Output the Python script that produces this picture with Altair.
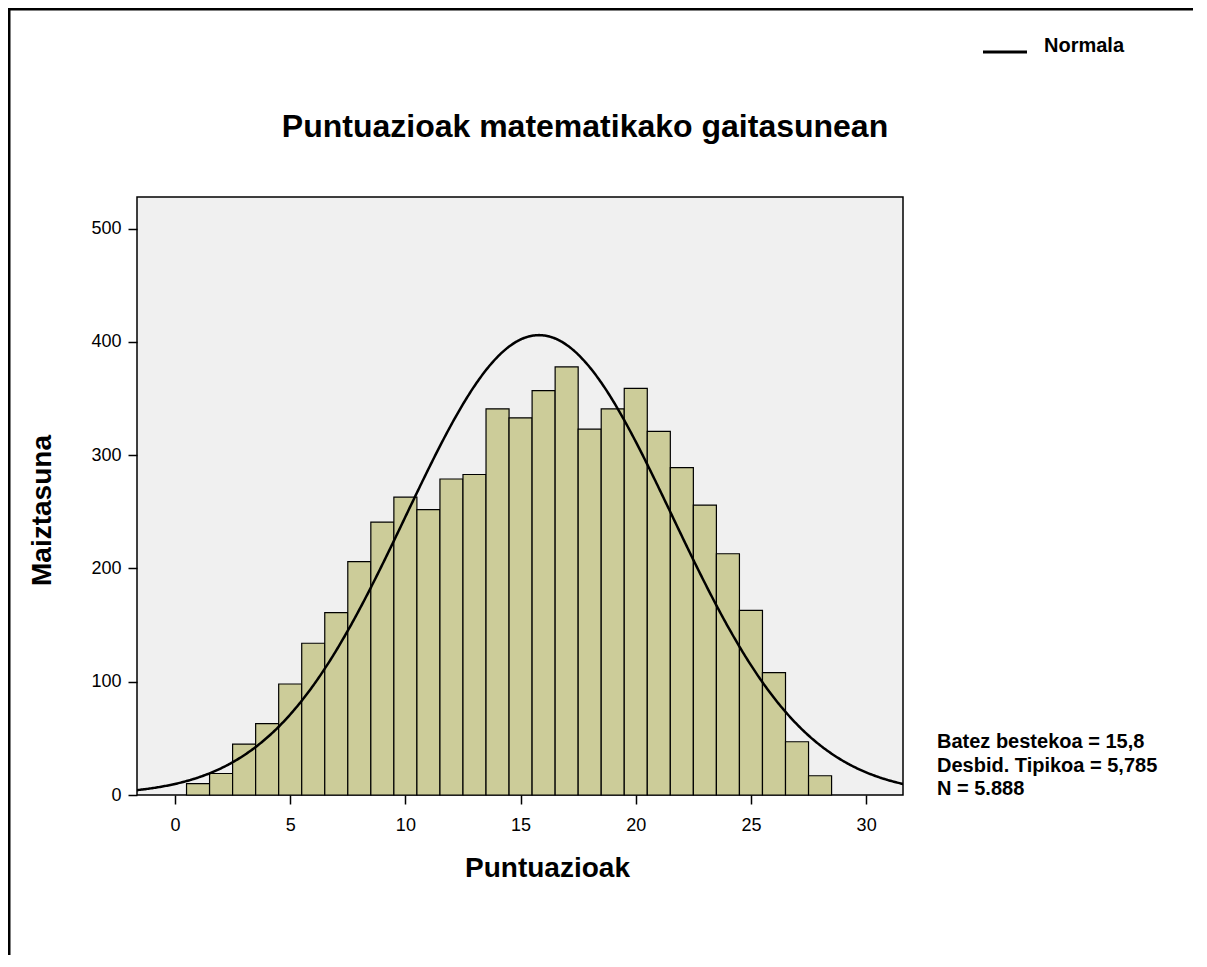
import altair as alt
import pandas as pd

# ---- data ----
score_centers = list(range(1, 29))
counts = [10, 19, 45, 63, 98, 134, 161, 206, 241, 263, 252, 279, 283, 341,
          333, 357, 378, 323, 341, 359, 321, 289, 256, 213, 163, 108, 47, 17]
x_ticks = [0, 5, 10, 15, 20, 25, 30]
y_ticks = [0, 100, 200, 300, 400, 500]
MEAN = 15.8
SD = 5.785
N = 5888
BIN_WIDTH = 1.0

title_text = "Puntuazioak matematikako gaitasunean"
stats_lines = ["Batez bestekoa = 15,8", "Desbid. Tipikoa = 5,785", "N = 5.888"]

FONT = "Liberation Sans"

bars_df = pd.DataFrame({
    "start": [c - BIN_WIDTH / 2 for c in score_centers],
    "end": [c + BIN_WIDTH / 2 for c in score_centers],
    "count": counts,
    "base": [0] * len(counts),
})

x_scale = alt.Scale(domain=[-1.65, 31.6], nice=False, zero=False)
y_scale = alt.Scale(domain=[0, 528], nice=False)

x_axis = alt.Axis(values=x_ticks, title="Puntuazioak", grid=False, tickSize=9,
                  labelPadding=12, labelFontSize=18, titleFontSize=28,
                  titleX=410, titleY=59, titleBaseline="top", labelFont=FONT,
                  titleFont=FONT, titleFontWeight="bold", domain=False,
                  tickColor="black", tickWidth=1.5, labelColor="black",
                  titleColor="black")
y_axis = alt.Axis(values=y_ticks, title="Maiztasuna", grid=False, tickSize=9,
                  labelPadding=7, labelFontSize=18, titleFontSize=28,
                  titleX=-95, titleY=313, titleBaseline="middle", titleAngle=-90,
                  labelFont=FONT, titleFont=FONT, titleFontWeight="bold",
                  domain=False, tickColor="black", tickWidth=1.5,
                  labelColor="black", titleColor="black")

bars = alt.Chart(bars_df).mark_bar(color="#CCCC99", stroke="black",
                                   strokeWidth=1.2).encode(
    x=alt.X("start:Q", scale=x_scale, axis=x_axis),
    x2="end:Q",
    y=alt.Y("count:Q", scale=y_scale, axis=y_axis),
    y2="base:Q",
)

curve = alt.Chart(alt.sequence(start=-1.7, stop=31.75, step=0.05, as_="x")).transform_calculate(
    dens=f"{N} * {BIN_WIDTH} / ({SD} * sqrt(2 * PI)) * exp(-0.5 * pow((datum.x - {MEAN}) / {SD}, 2))"
).mark_line(color="black", strokeWidth=2.5, clip=True).encode(
    x=alt.X("x:Q", scale=x_scale),
    y=alt.Y("dens:Q", scale=y_scale),
)

title_mark = alt.Chart().mark_text(align="center", baseline="alphabetic",
                                   font=FONT, fontWeight="bold", fontSize=32,
                                   color="black").encode(
    x=alt.value(448), y=alt.value(-60), text=alt.value(title_text))

legend_line = alt.Chart().mark_rule(color="black", strokeWidth=3).encode(
    x=alt.value(846), x2=alt.value(890), y=alt.value(-145))
legend_text = alt.Chart().mark_text(align="left", baseline="middle", font=FONT,
                                    fontWeight="bold", fontSize=20,
                                    color="black").encode(
    x=alt.value(907), y=alt.value(-151), text=alt.value("Normala"))

stats_text = alt.Chart().mark_text(align="left", baseline="top", font=FONT,
                                   fontWeight="bold", fontSize=20,
                                   lineHeight=23.5, color="black").encode(
    x=alt.value(800), y=alt.value(535), text=alt.value(stats_lines))

frame_left = alt.Chart().mark_rule(color="black", strokeWidth=3).encode(
    x=alt.value(-128), y=alt.value(-188), y2=alt.value(770))
frame_top = alt.Chart().mark_rule(color="black", strokeWidth=3).encode(
    x=alt.value(-129.5), x2=alt.value(1080), y=alt.value(-188))

chart = alt.layer(bars, curve, title_mark, legend_line, legend_text,
                  stats_text, frame_left, frame_top).properties(
    width=766, height=598,
    autosize=alt.AutoSizeParams(type="none"),
    padding={"left": 129, "top": 189, "right": 290, "bottom": 160},
).configure(
    background="white",
    view=alt.ViewConfig(fill="#F0F0F0", stroke="black", strokeWidth=1.5),
)

chart.save("out.html", embed_options={"renderer": "svg", "actions": False})
